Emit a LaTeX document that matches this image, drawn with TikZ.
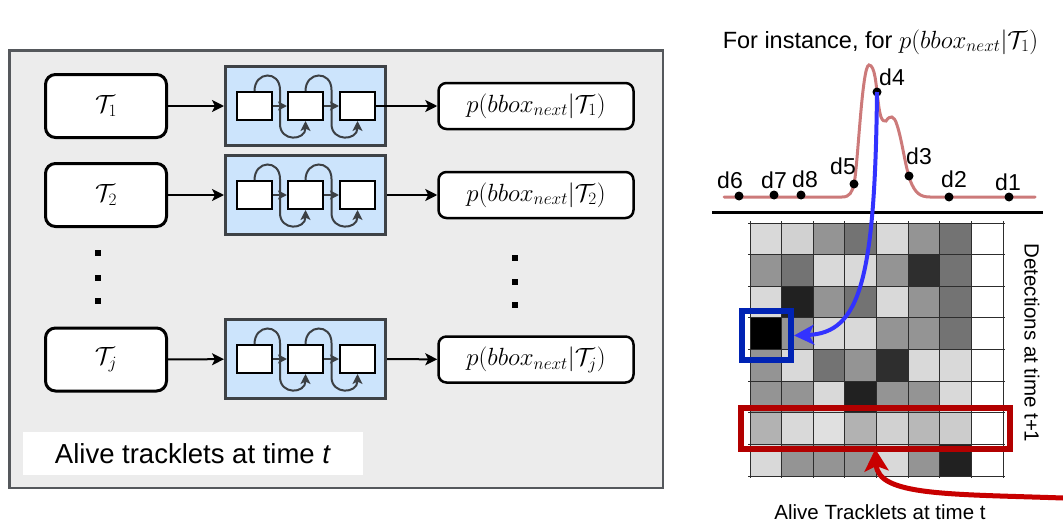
\documentclass[tikz,border=0pt]{standalone}
\usepackage{fontspec}
\setmainfont{Liberation Sans}
\usetikzlibrary{arrows.meta,calc}
\definecolor{panelfill}{RGB}{236,236,236}
\definecolor{paneledge}{RGB}{85,88,92}
\definecolor{rnnfill}{RGB}{204,228,252}
\definecolor{rnnedge}{RGB}{62,66,70}
\definecolor{loopc}{RGB}{60,64,68}
\definecolor{curvec}{RGB}{204,122,122}
\definecolor{bluearr}{RGB}{50,50,255}
\definecolor{bluebox}{RGB}{0,35,180}
\definecolor{redbox}{RGB}{178,0,0}
\definecolor{redarr}{RGB}{200,0,0}
\definecolor{gridc}{RGB}{45,45,45}
\newcommand{\rnnrow}[2]{%
  \node[rnnbox] (#1) at (305.5,#2) {};
  \node[cellbox] (#1a) at (254.5,#2) {};
  \node[cellbox] (#1b) at (305.5,#2) {};
  \node[cellbox] (#1c) at (357.5,#2) {};
  \draw[innerarr] (#1a) -- (#1b);
  \draw[innerarr] (#1b) -- (#1c);
  \draw[looparr] (#1a.north) .. controls +(0,-20) and +(0,-20) .. ($(#1a.east)!0.5!(#1b.west)+(0,-16)$)
     -- ($(#1a.east)!0.5!(#1b.west)+(0,18)$) .. controls +(0,18) and +(0,20) .. (#1b.south);
  \draw[looparr] (#1b.north) .. controls +(0,-20) and +(0,-20) .. ($(#1b.east)!0.5!(#1c.west)+(0,-16)$)
     -- ($(#1b.east)!0.5!(#1c.west)+(0,18)$) .. controls +(0,18) and +(0,20) .. (#1c.south);
}
\begin{document}
\begin{tikzpicture}[x=1pt,y=-1pt,
  panel/.style={draw=paneledge,line width=2.5pt,fill=panelfill,minimum width=653.5pt,minimum height=437.5pt,inner sep=0pt},
  tbox/.style={draw=black,line width=3pt,rounded corners=10pt,fill=white,minimum width=121pt,minimum height=63pt,inner sep=0pt,font=\fontsize{24}{28}\selectfont},
  rnnbox/.style={draw=rnnedge,line width=3pt,fill=rnnfill,minimum width=160pt,minimum height=79pt,inner sep=0pt},
  cellbox/.style={draw=black,line width=2pt,fill=white,minimum width=35pt,minimum height=28pt,inner sep=0pt},
  obox/.style={draw=black,line width=2.5pt,rounded corners=8pt,fill=white,minimum width=195pt,minimum height=46pt,inner sep=0pt,font=\fontsize{24}{28}\selectfont},
  mainarr/.style={line width=2pt,-{Stealth[length=12pt,width=12pt,inset=3pt]}},
  innerarr/.style={draw=loopc,line width=2pt,-{Stealth[length=9pt,width=9pt,inset=2pt]}},
  looparr/.style={draw=loopc,line width=2pt,-{Stealth[length=10pt,width=10pt,inset=2.5pt]}},
  vdot/.style={fill=black,minimum size=6pt,inner sep=0pt},
  pdot/.style={circle,fill=black,minimum size=9pt,inner sep=0pt},
  dlab/.style={font=\fontsize{23}{27}\selectfont,inner sep=0pt},
  gridln/.style={draw=gridc,line width=1pt}
]
\useasboundingbox (0,0) rectangle (1063,530);
% ---------- left panel ----------
\node[panel] (panel) at (336,269) {};
\node[tbox] (t1) at (106,106) {$\mathcal{T}_1$};
\node[tbox] (t2) at (106,195) {$\mathcal{T}_2$};
\node[tbox] (tj) at (106,359.5) {$\mathcal{T}_j$};
\rnnrow{r1}{106}
\rnnrow{r2}{195}
\rnnrow{rj}{359}
\node[obox] (o1) at (536,106) {$p(bbox_{next}|\mathcal{T}_1)$};
\node[obox] (o2) at (536,195) {$p(bbox_{next}|\mathcal{T}_2)$};
\node[obox] (oj) at (536,359.5) {$p(bbox_{next}|\mathcal{T}_j)$};
\draw[mainarr] (t1) -- (r1);
\draw[mainarr] (t2) -- (r2);
\draw[mainarr] (tj) -- (rj);
\draw[mainarr] (r1c) -- (o1);
\draw[mainarr] (r2) -- (o2);
\draw[mainarr] (rj) -- (oj);
\node[vdot] (lv1) at (98,253) {};
\node[vdot] (lv2) at (98,278) {};
\node[vdot] (lv3) at (98,301) {};
\node[vdot] (rv1) at (515,258) {};
\node[vdot] (rv2) at (515,282) {};
\node[vdot] (rv3) at (515,305) {};
\node[fill=white,minimum width=340pt,minimum height=43pt,inner sep=0pt,font=\fontsize{27.5}{32}\selectfont] (lbl) at (193,453.5) {Alive tracklets at time \textit{t}};
% ---------- right: distribution ----------
\node[anchor=base,inner sep=0pt,font=\fontsize{23.5}{28}\selectfont] (title) at (880.5,48) {For instance, for $p(bbox_{next}|\mathcal{T}_1)$};
\draw[curvec,line width=3pt,line cap=round]
  (724,197) -- (842,197) .. controls (850,197) and (852,192) .. (854,184)
  .. controls (858,165) and (862,65) .. (869,65)
  .. controls (875,65) and (876,85) .. (878,100)
  .. controls (880,118) and (882,122) .. (886,121)
  .. controls (890,115) and (894,115) .. (897,125)
  .. controls (902,140) and (905,165) .. (910,180)
  .. controls (915,193) and (920,197) .. (930,197) -- (1035,197);
\draw[black,line width=3pt] (712,212) -- (1043,212);
\node[pdot] (d6) at (739,196) {};
\node[pdot] (d7) at (774,195) {};
\node[pdot] (d8) at (801,195) {};
\node[pdot] (d5) at (854,184) {};
\node[pdot] (d4) at (877,92) {};
\node[pdot] (d3) at (909,176) {};
\node[pdot] (d2) at (949,197) {};
\node[pdot] (d1) at (1009,197) {};
\node[dlab] (l6) at (730,180) {d6};
\node[dlab] (l7) at (774,180) {d7};
\node[dlab] (l8) at (805,179) {d8};
\node[dlab] (l5) at (843,166) {d5};
\node[dlab] (l4) at (892,77) {d4};
\node[dlab] (l3) at (919,156) {d3};
\node[dlab] (l2) at (954,179) {d2};
\node[dlab] (l1) at (1008,182) {d1};
% ---------- grid ----------
\foreach \row [count=\j] in {{15,18,42,55,15,42,55,0},{42,55,15,15,42,82,55,0},{15,87,42,55,15,42,55,0},{100,42,15,15,42,42,55,0},{42,15,55,42,82,15,15,0},{42,42,15,87,42,42,15,0},{30,15,12,30,18,28,20,0},{15,42,42,42,15,42,87,0}}{
  \foreach \v [count=\i] in \row {
    \fill[black!\v] ({750+31.625*(\i-1)},{223+31.625*(\j-1)}) rectangle ++(31.625,31.625);
  }
}
\foreach \k in {0,...,8}{
  \draw[gridln] ({750+31.625*\k},221) -- ({750+31.625*\k},478);
  \draw[gridln] (748,{223+31.625*\k}) -- (1005,{223+31.625*\k});
}
\node[draw=bluebox,line width=6pt,minimum width=49pt,minimum height=49pt,inner sep=0pt] (bbox) at (766.5,335.5) {};
\node[draw=redbox,line width=6pt,minimum width=269pt,minimum height=41pt,inner sep=0pt] (rbox) at (875.5,428.5) {};
\draw[bluearr,line width=4pt,-{Stealth[length=20pt,width=20pt,inset=5pt]}]
  (d4.center) .. controls (875,280) and (860,333) .. (bbox.east);
\coordinate (redstart) at (1063,498);
\draw[redarr,line width=5pt,-{Stealth[length=22pt,width=24pt,inset=5pt]},shorten >=-3pt]
  (redstart) .. controls (950,494) and (878,496) .. (rbox.south);
\node[inner sep=0pt,font=\fontsize{20.5}{24}\selectfont] (alab) at (880,512) {Alive Tracklets at time t};
\node[inner sep=0pt,rotate=-90,font=\fontsize{20.5}{24}\selectfont] (dlabv) at (1032,343) {Detections at time t+1};
\end{tikzpicture}
\end{document}
